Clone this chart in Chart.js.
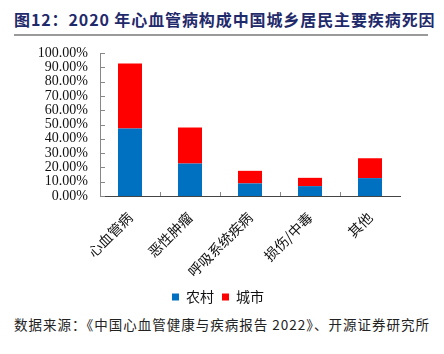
<!DOCTYPE html>
<html lang="zh">
<head>
<meta charset="UTF-8">
<script src="https://cdn.jsdelivr.net/npm/chart.js"></script>
<title>2020年心血管病构成中国城乡居民主要疾病死因</title>
<style>
  body { margin: 0; background: #fff; width: 444px; height: 354px; position: relative; overflow: hidden; }
  #title { position: absolute; left: 14px; top: 7px; width: 414px; font-family: "Noto Sans CJK SC"; font-weight: bold;
           font-size: 16px; letter-spacing: 0.9px; color: #1f2a6b; white-space: nowrap; border-bottom: 2px solid #9a9a9a; padding-bottom: 3px; }
  #box { position: absolute; left: 0; top: 34px; width: 444px; height: 280px; }
  #src { position: absolute; left: 14px; top: 314px; font-family: "Noto Sans CJK SC"; font-size: 13.5px; letter-spacing: 1px; color: #222; white-space: nowrap; }
</style>
</head>
<body>
  <div id="title">图12：2020 年心血管病构成中国城乡居民主要疾病死因</div>
  <div id="box"><canvas id="myChart"></canvas></div>
  <div id="src">数据来源：《中国心血管健康与疾病报告 2022》、开源证券研究所</div>
  <script>
    const categories = ['心血管病', '恶性肿瘤', '呼吸系统疾病', '损伤/中毒', '其他'];
    const rural = [47.2, 22.7, 8.8, 6.9, 12.5];
    const urban = [45.4, 25.2, 8.8, 5.8, 13.9];
    const yTicks = [0, 10, 20, 30, 40, 50, 60, 70, 80, 90, 100];

    // small inward tick marks like the original
    const innerTicks = {
      id: 'innerTicks',
      afterDraw(chart) {
        const c = chart.ctx, x = chart.scales.x, y = chart.scales.y;
        c.save();
        c.strokeStyle = '#888';
        c.lineWidth = 1;
        c.beginPath();
        yTicks.forEach(v => {
          const py = Math.round(y.getPixelForValue(v)) + 0.5;
          c.moveTo(x.left, py); c.lineTo(x.left + 5, py);
        });
        for (let i = 1; i < categories.length; i++) {
          const px = Math.round((x.getPixelForValue(i - 1) + x.getPixelForValue(i)) / 2) + 0.5;
          c.moveTo(px, y.bottom); c.lineTo(px, y.bottom - 4);
        }
        c.stroke();
        c.restore();
      }
    };

    new Chart(document.getElementById('myChart'), {
      type: 'bar',
      data: {
        labels: categories,
        datasets: [
          { label: '农村', data: rural, backgroundColor: '#0070c0', categoryPercentage: 0.8, barPercentage: 0.5 },
          { label: '城市', data: urban, backgroundColor: '#ff0000', categoryPercentage: 0.8, barPercentage: 0.5 }
        ]
      },
      options: {
        responsive: true,
        maintainAspectRatio: false,
        animation: false,
        layout: { padding: { left: 36, right: 44, top: 0, bottom: 0 } },
        plugins: {
          tooltip: { enabled: false },
          legend: {
            position: 'bottom',
            labels: { boxWidth: 7, boxHeight: 7, padding: 8, color: '#111',
                      font: { family: 'Noto Sans CJK SC', size: 14, lineHeight: 1 } }
          }
        },
        scales: {
          x: {
            stacked: true,
            grid: { display: false, drawTicks: false },
            border: { color: '#444', width: 1 },
            afterFit: (scale) => { scale.height = 86; },
            ticks: { minRotation: 45, maxRotation: 45, padding: 14, color: '#111',
                     font: { family: 'Noto Sans CJK SC', size: 14, lineHeight: 1 } }
          },
          y: {
            stacked: true,
            min: 0, max: 100,
            grid: { display: false, drawTicks: false },
            border: { color: '#888', width: 1 },
            afterFit: (scale) => { scale.width = 64; },
            afterBuildTicks: (axis) => { axis.ticks = yTicks.map(v => ({ value: v })); },
            ticks: { autoSkip: false, padding: 12, color: '#111', font: { family: 'Liberation Serif', size: 14, lineHeight: 1 },
                     callback: v => v.toFixed(2) + '%' }
          }
        }
      },
      plugins: [innerTicks]
    });
  </script>
</body>
</html>
